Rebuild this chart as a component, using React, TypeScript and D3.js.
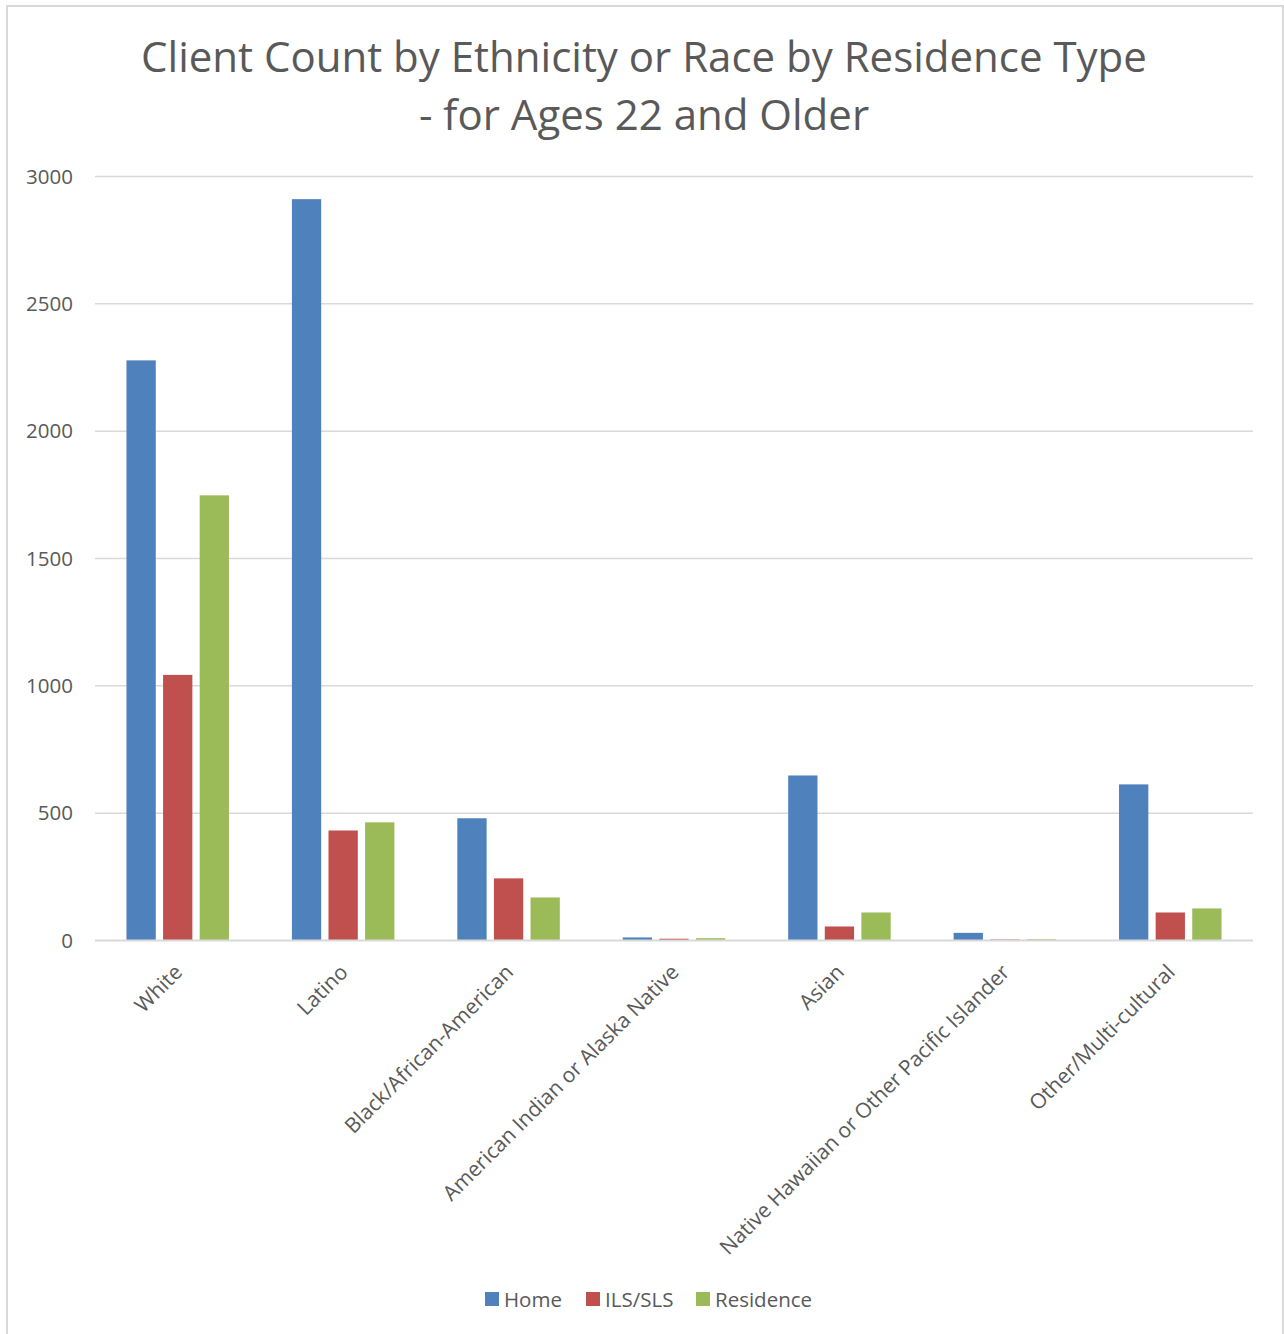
import React from "react";
import * as d3 from "d3";

// Client counts by ethnicity/race, grouped by residence type
const categories = [
  "White",
  "Latino",
  "Black/African-American",
  "American Indian or Alaska Native",
  "Asian",
  "Native Hawaiian or Other Pacific Islander",
  "Other/Multi-cultural",
];
const seriesNames = ["Home", "ILS/SLS", "Residence"];
const homeValues = [2278, 2911, 480, 12, 648, 30, 613];
const ilsValues = [1043, 432, 244, 7, 55, 4, 110];
const residenceValues = [1748, 464, 169, 9, 110, 5, 126];
const yTicks = [0, 500, 1000, 1500, 2000, 2500, 3000];
const titleLines = [
  "Client Count by Ethnicity or Race by Residence Type",
  "- for Ages 22 and Older",
];

const colors = ["#4F81BD", "#C0504D", "#9BBB59"];
const textColor = "#595959";
const gridColor = "#D9D9D9";
const font = "'Open Sans', Lato, sans-serif";

const W = 1284;
const H = 1334;
const plot = { left: 95, right: 1253, top: 176.5, bottom: 940.5 };

export default function App() {
  const series = [homeValues, ilsValues, residenceValues];

  const x0 = d3
    .scaleBand<string>()
    .domain(categories)
    .range([plot.left, plot.right])
    .paddingInner(0)
    .paddingOuter(0);

  // Bars sit in the middle of each band with gaps between them
  const barW = 29.3;
  const barGap = 7.3;
  const groupW = barW * 3 + barGap * 2;

  const y = d3.scaleLinear().domain([0, 3000]).range([plot.bottom, plot.top]);

  const legendX = [485, 586, 696];

  return (
    <div style={{ position: "absolute", left: 0, top: 0 }}>
      <svg width={W} height={H} style={{ display: "block", background: "#fff" }}>
        <rect x={7} y={6} width={1276} height={1340} fill="#fff" stroke={gridColor} strokeWidth={2} />

        {titleLines.map((t, i) => (
          <text
            key={t}
            x={644}
            y={72 + i * 58}
            textAnchor="middle"
            fontFamily={font}
            fontSize={42}
            fill={textColor}
          >
            {t}
          </text>
        ))}

        {yTicks.map((v) => (
          <g key={v}>
            {v !== 0 && (
              <line x1={plot.left} x2={plot.right} y1={y(v)} y2={y(v)} stroke={gridColor} strokeWidth={1.5} />
            )}
            <text
              x={73}
              y={y(v)}
              dy="0.35em"
              textAnchor="end"
              fontFamily={font}
              fontSize={20.5}
              fill={textColor}
            >
              {v}
            </text>
          </g>
        ))}

        {categories.map((c, ci) => {
          const cx = (x0(c) as number) + x0.bandwidth() / 2;
          const start = cx - groupW / 2;
          return (
            <g key={c}>
              {series.map((vals, si) => (
                <rect
                  key={si}
                  x={start + si * (barW + barGap)}
                  y={y(vals[ci])}
                  width={barW}
                  height={plot.bottom - y(vals[ci])}
                  fill={colors[si]}
                />
              ))}
            </g>
          );
        })}

        <line x1={plot.left} x2={plot.right} y1={plot.bottom} y2={plot.bottom} stroke={gridColor} strokeWidth={2} />

        {categories.map((c) => {
          const cx = (x0(c) as number) + x0.bandwidth() / 2;
          return (
            <text
              key={c}
              transform={`translate(${cx + 6},${plot.bottom + 33}) rotate(-45)`}
              textAnchor="end"
              fontFamily={font}
              fontSize={21}
              fill={textColor}
            >
              {c}
            </text>
          );
        })}

        {seriesNames.map((n, i) => (
          <g key={n}>
            <rect x={legendX[i]} y={1292} width={14} height={14} fill={colors[i]} />
            <text x={legendX[i] + 19} y={1306.5} fontFamily={font} fontSize={20.5} fill={textColor}>
              {n}
            </text>
          </g>
        ))}
      </svg>
    </div>
  );
}
